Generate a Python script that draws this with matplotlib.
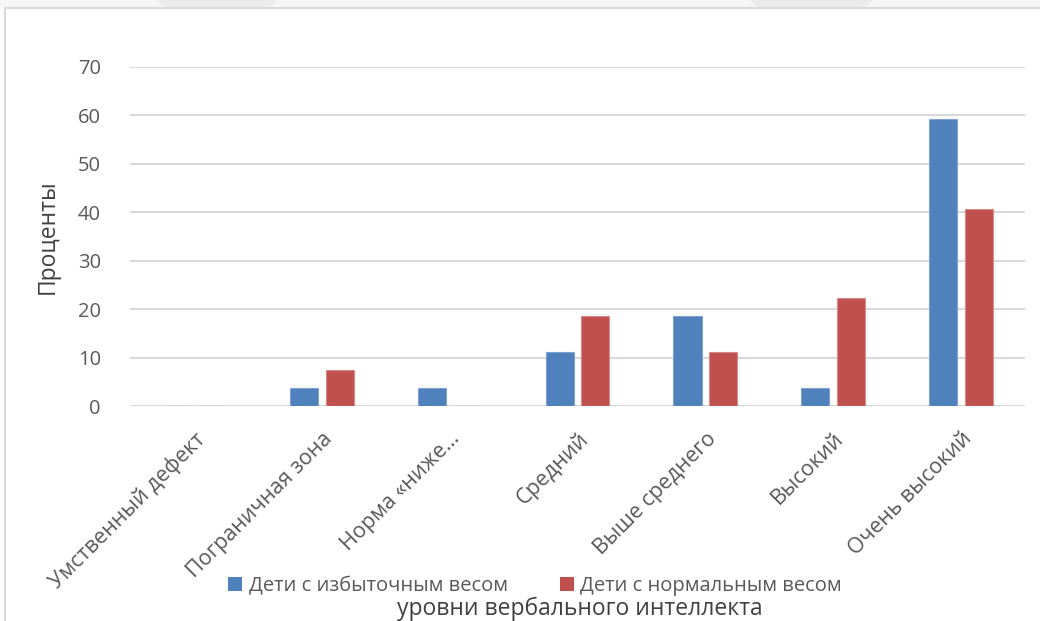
import matplotlib
matplotlib.use("Agg")
import matplotlib.pyplot as plt
import numpy as np
from matplotlib.patches import FancyBboxPatch, Rectangle

plt.rcParams['font.family'] = ['Open Sans', 'DejaVu Sans']

categories = ["Умственный дефект", "Пограничная зона", "Норма «ниже…",
              "Средний", "Выше среднего", "Высокий", "Очень высокий"]
overweight = [0, 3.7, 3.7, 11.1, 18.5, 3.7, 59.3]
normal_weight = [0, 7.4, 0, 18.5, 11.1, 22.2, 40.7]
series_names = ["Дети с избыточным весом", "Дети с нормальным весом"]
yticks = [0, 10, 20, 30, 40, 50, 60, 70]

W, H = 1040, 621
fig = plt.figure(figsize=(W / 100, H / 100), dpi=100)
fig.patch.set_facecolor("white")

# light strip across the top with faint tab shapes, and the chart frame
fig.add_artist(Rectangle((0, 1 - 8 / H), 1, 8 / H, transform=fig.transFigure,
                         facecolor="#f6f6f6", edgecolor="none", zorder=0))
for x0, x1 in [(157, 277), (750, 873)]:
    fig.add_artist(FancyBboxPatch((x0 / W, 1 - 8 / H), (x1 - x0) / W, 30 / H,
                                  boxstyle="round,pad=0,rounding_size=0.02",
                                  transform=fig.transFigure, facecolor="#ebebeb",
                                  edgecolor="none", zorder=0.5))
fig.add_artist(Rectangle((5 / W, -0.1), 1.2, 1 - 8 / H + 0.1, transform=fig.transFigure,
                         facecolor="white", edgecolor="#d9d9d9", linewidth=1.5, zorder=1))

ax = fig.add_axes([130 / W, 1 - 406 / H, (1025 - 130) / W, (406 - 67) / H])
ax.set_zorder(2)
ax.patch.set_alpha(0)

x = np.arange(len(categories))
bw = 0.22
gap = 0.06
ax.bar(x - (bw + gap) / 2, overweight, bw, color="#4F81BD", edgecolor="#7FA3D1",
       linewidth=0.8, label=series_names[0], zorder=3)
ax.bar(x + (bw + gap) / 2, normal_weight, bw, color="#C0504D", edgecolor="#D88A88",
       linewidth=0.8, label=series_names[1], zorder=3)

ax.set_xlim(-0.5, len(categories) - 0.5)
ax.set_ylim(0, 70)
ax.set_yticks(yticks)
ax.set_yticklabels([str(v) for v in yticks])
ax.yaxis.grid(True, color="#d9d9d9", linewidth=1.5)
ax.set_axisbelow(True)
for s in ax.spines.values():
    s.set_visible(False)
ax.tick_params(axis="both", length=0, colors="#595959")
ax.tick_params(axis="y", pad=21, labelsize=14.5)
ax.set_xticks(x)
ax.set_xticklabels(categories, rotation=45, ha="right", rotation_mode="anchor",
                   fontsize=15.5, color="#595959")
ax.tick_params(axis="x", pad=16)

fig.text(48 / W, 1 - 237 / H, "Проценты", rotation=90, ha="center", va="center",
         fontsize=16.5, color="#404040")
fig.text(580 / W, 1 - 609 / H, "уровни вербального интеллекта", ha="center",
         va="center", fontsize=16.5, color="#404040")

handles, labels = ax.get_legend_handles_labels()
leg = fig.legend(handles, labels, loc="center", bbox_to_anchor=(535 / W, 1 - 586 / H),
                 ncol=2, frameon=False, fontsize=14.5, handlelength=0.7,
                 handleheight=0.7, handletextpad=0.3, columnspacing=2.6,
                 labelcolor="#595959", borderpad=0)
for p in leg.get_patches():
    p.set_edgecolor("none")

fig.savefig("out.png", dpi=100, facecolor="white")
